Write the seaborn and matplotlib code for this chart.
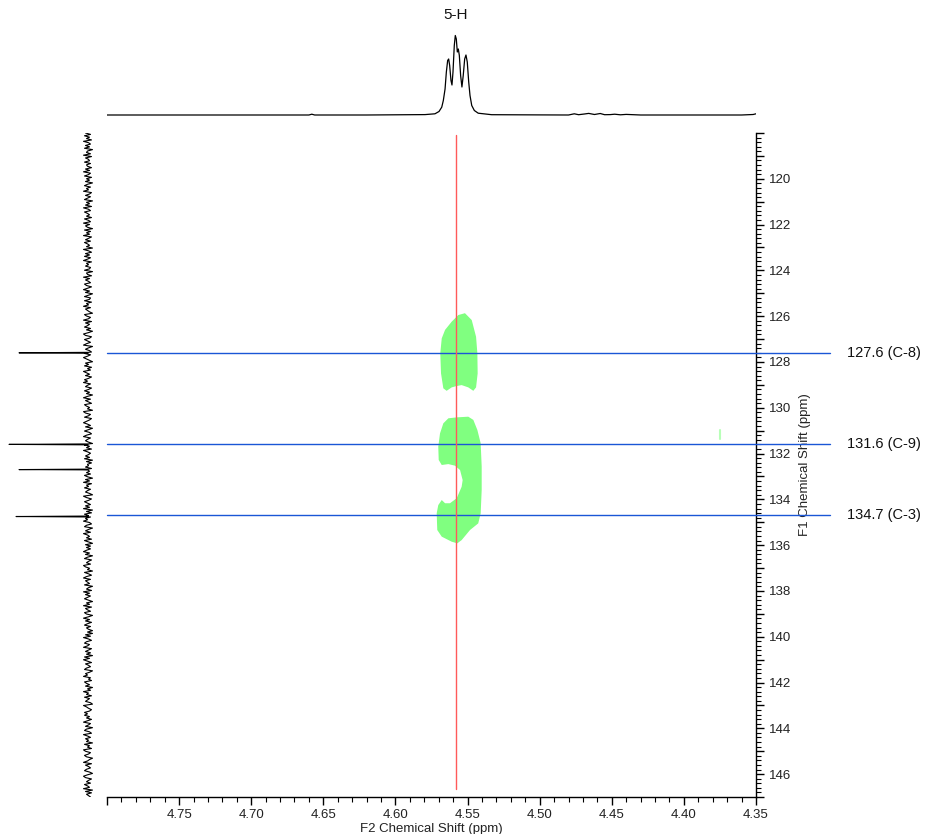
import numpy as np
import pandas as pd
import matplotlib
matplotlib.use("Agg")
import matplotlib.pyplot as plt
from matplotlib.ticker import MultipleLocator, FuncFormatter
import seaborn as sns

# ---------------- data ----------------
# 1D proton projection (top), F2 ppm vs intensity
top_ppm = [4.800, 4.700, 4.660, 4.658, 4.656, 4.620, 4.5899, 4.5795, 4.5726, 4.5698,
           4.5679, 4.5668, 4.5656, 4.5647, 4.5638, 4.5631, 4.5624, 4.5615, 4.5608, 4.5601,
           4.5592, 4.5585, 4.5578, 4.5571, 4.5564, 4.5557, 4.5548, 4.5539, 4.5530, 4.5520,
           4.5511, 4.5502, 4.5492, 4.5483, 4.5471, 4.5453, 4.5426, 4.5333, 4.500, 4.480,
           4.476, 4.473, 4.469, 4.466, 4.462, 4.458, 4.455, 4.451, 4.448, 4.444,
           4.440, 4.430, 4.400, 4.360, 4.352, 4.350]
top_int = [0, 0, 0, 0.8, 0, 0, 0.3, 0.4, 1.2, 3.5,
           7.8, 14.5, 26, 43, 54.5, 56, 49.5, 34.5, 30, 43,
           69.5, 79.5, 76, 63, 66, 59.5, 39.5, 28, 39.5, 56,
           60, 53, 33, 19.5, 9.5, 4.5, 1.8, 0.3, 0.1, 0,
           1.2, 0.3, 1.0, 1.6, 0.5, 1.5, 0.3, 0.4, 0.8, 0.2,
           0.6, 0, 0, 0, 0.5, 1.2]

# 1D carbon projection (left): noise trace (digits 0-9, centred on 4.5) + peaks
f1_noise_digits = (
    "728361942738056291743826517392481637058264913725806371942853"
    "618429375082639147285360941738259164723806519374286159370482"
    "381649275308624917358260497138526904731825963074815296371485"
    "925714836059274186350972481369527048316925740836195247380615"
    "471936285073916482573096148527390618427593168047295361840726"
    "269370581462973508416927538046193725840639175286049371582640"
    "507294168359147260839517426803759241863705294618357209641385"
    "836159247068319527460835197248603591742683059714628539071642"
)
f1_peak_ppm = [127.6, 131.6, 132.7, 134.75]
f1_peak_int = [69, 79, 69, 72]

# HMBC cross peaks (outline in F2, F1 ppm)
peak1_f2 = [4.5518, 4.5471, 4.5441, 4.5432, 4.5430, 4.5441, 4.5460, 4.5495, 4.5541, 4.5575,
            4.5610, 4.5645, 4.5668, 4.5684, 4.5689, 4.5679, 4.5656, 4.5610, 4.5564]
peak1_f1 = [125.87, 126.17, 126.90, 127.62, 128.50, 129.11, 129.26, 129.11, 129.01, 129.05,
            129.11, 129.26, 129.15, 128.50, 127.62, 126.97, 126.60, 126.24, 125.95]
peak2_f2 = [4.5633, 4.5575, 4.5495, 4.5460, 4.5432, 4.5409, 4.5402, 4.5402, 4.5409, 4.5426,
            4.5483, 4.5541, 4.5571, 4.5610, 4.5679, 4.5710, 4.5714, 4.5703, 4.5679, 4.5656,
            4.5622, 4.5575, 4.5541, 4.5534, 4.5552, 4.5587, 4.5633, 4.5679, 4.5700, 4.5703,
            4.5691, 4.5668]
peak2_f1 = [130.46, 130.42, 130.39, 130.53, 130.97, 131.55, 132.57, 133.59, 134.61, 135.05,
            135.34, 135.78, 135.92, 135.85, 135.63, 135.34, 134.61, 134.25, 134.03, 134.17,
            134.17, 133.95, 133.45, 133.16, 132.72, 132.53, 132.46, 132.50, 132.28, 131.70,
            131.12, 130.68]
speck_f2 = [4.375, 4.375]
speck_f1 = [130.95, 131.35]

proton_shift = 4.558
proton_label = "5-H"
carbon_shifts = [127.6, 131.6, 134.7]
carbon_labels = ["127.6 (C-8)", "131.6 (C-9)", "134.7 (C-3)"]

# ---------------- style ----------------
sns.set_style("white")
plt.rcParams['font.family'] = ['Liberation Sans', 'DejaVu Sans']

W, H = 928, 834
fig = plt.figure(figsize=(W / 100, H / 100), dpi=100)

def rect(x0, y0, x1, y1):
    return [x0 / W, 1 - y1 / H, (x1 - x0) / W, (y1 - y0) / H]

ax = fig.add_axes(rect(107, 133, 756, 797))
ax_top = fig.add_axes(rect(107, 20, 756, 120))
ax_left = fig.add_axes(rect(0, 133, 107, 797))

# ---------------- main 2D ----------------
green = "#80ff80"
ax.fill(peak1_f2, peak1_f1, color=green, lw=0, zorder=1)
ax.fill(peak2_f2, peak2_f1, color=green, lw=0, zorder=1)
ax.plot(speck_f2, speck_f1, color="#b8ffb8", lw=1.5, zorder=1)

xmax_frac = (830 - 107) / 649
for cs, lab in zip(carbon_shifts, carbon_labels):
    ax.axhline(cs, xmin=0, xmax=xmax_frac, color="#1a56d6", lw=1.0, clip_on=False, zorder=3)
    ax.text((847 - 107) / 649, cs, lab, transform=ax.get_yaxis_transform(),
            fontsize=10.5, va="center", ha="left", color="#111111")
ax.axvline(proton_shift, ymin=(797 - 789) / 664, ymax=(797 - 135) / 664,
           color="#ff5a5a", lw=1.0, zorder=4)

ax.set_xlim(4.80, 4.35)
ax.set_ylim(147, 118)
for s in ["top", "left"]:
    ax.spines[s].set_visible(False)
for s in ["bottom", "right"]:
    ax.spines[s].set_color("black")
    ax.spines[s].set_linewidth(1.0)
ax.yaxis.tick_right()
ax.yaxis.set_label_position("right")
ax.xaxis.set_major_locator(MultipleLocator(0.05))
ax.xaxis.set_minor_locator(MultipleLocator(0.01))
ax.yaxis.set_major_locator(MultipleLocator(1))
ax.yaxis.set_minor_locator(MultipleLocator(0.2))
ax.xaxis.set_major_formatter(FuncFormatter(lambda v, p: "" if v > 4.79 else f"{v:.2f}"))
ax.yaxis.set_major_formatter(FuncFormatter(
    lambda v, p: f"{int(round(v))}" if (int(round(v)) % 2 == 0 and v > 118.5) else ""))
ax.tick_params(axis="both", which="major", direction="out", length=6, width=1,
               color="black", labelsize=9.5, labelcolor="#222222")
ax.tick_params(axis="both", which="minor", direction="out", length=3.5, width=0.8,
               color="black")
ax.tick_params(axis="x", which="both", bottom=True, pad=3)
ax.tick_params(axis="y", which="both", right=True, left=False, pad=3)
ax.set_xlabel("F2 Chemical Shift (ppm)", fontsize=9.5, labelpad=1, color="#222222")
ax.set_ylabel("F1 Chemical Shift (ppm)", fontsize=9.5, labelpad=6, color="#222222")
ax.grid(False)

# ---------------- top projection ----------------
top_df = pd.DataFrame({"ppm": top_ppm, "intensity": top_int})
sns.lineplot(data=top_df, x="ppm", y="intensity", ax=ax_top, color="black",
             lw=0.9, estimator=None, sort=True)
ax_top.set_xlim(4.80, 4.35)
ax_top.set_ylim(-5, 95)
ax_top.axis("off")
ax_top.text(proton_shift, 100, proton_label, ha="center", va="center",
            fontsize=11, clip_on=False, color="#111111")

# ---------------- left projection ----------------
f1_noise = [int(d) - 4.5 for d in f1_noise_digits]
n = len(f1_noise)
f1_grid = np.linspace(118, 147, n)
left_ppm = list(f1_grid)
left_int = list(f1_noise)
for pp, pi in zip(f1_peak_ppm, f1_peak_int):
    left_ppm += [pp - 0.02, pp, pp + 0.02]
    left_int += [0, pi, 0]
left_df = pd.DataFrame({"ppm": left_ppm, "intensity": left_int}).sort_values("ppm")
sns.lineplot(data=left_df, x="intensity", y="ppm", ax=ax_left, color="black",
             lw=0.8, estimator=None, sort=False)
ax_left.set_xlim(88, -19)
ax_left.set_ylim(147, 118)
ax_left.axis("off")

fig.savefig("out.png", dpi=100)
